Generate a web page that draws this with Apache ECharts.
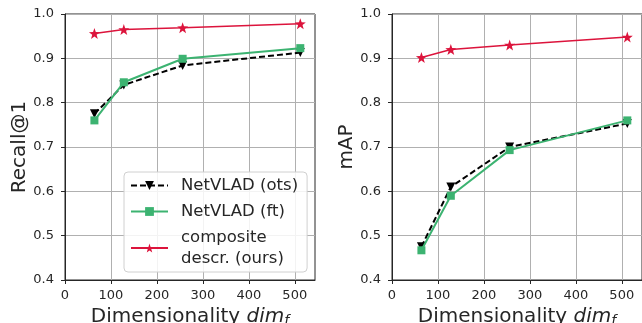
<!DOCTYPE html>
<html><head><meta charset="utf-8">
<script src="https://cdn.jsdelivr.net/npm/echarts@6/dist/echarts.min.js"></script>
<style>html,body{margin:0;padding:0;background:#fff}#c{width:642px;height:323px}</style>
</head><body><div id="c"></div>
<script>
const dims = [64, 128, 256, 512];
const recallOts = [0.775, 0.840, 0.884, 0.913];
const recallFt = [0.760, 0.846, 0.899, 0.923];
const recallOurs = [0.956, 0.965, 0.969, 0.978];
const mapOts = [0.475, 0.610, 0.700, 0.753];
const mapFt = [0.467, 0.590, 0.693, 0.760];
const mapOurs = [0.902, 0.920, 0.930, 0.948];
const xTicks = [0, 100, 200, 300, 400, 500];
const names = ['NetVLAD (ots)', 'NetVLAD (ft)', 'composite\ndescr. (ours)'];

const STAR = 'path://M0,-10 L2.35,-3.24 L9.51,-3.09 L3.8,1.24 L5.88,8.09 L0,4 L-5.88,8.09 L-3.8,1.24 L-9.51,-3.09 L-2.35,-3.24 Z';
const pair = (ys) => dims.map((d, i) => [d, ys[i]]);
const tc = '#262626';
const FONT = 'DejaVu Sans';

function xAx(gi) {
  return {
    type: 'value', gridIndex: gi, min: 0, max: 544,
    axisLine: {show: true, onZero: false, lineStyle: {color: '#262626', width: 1}},
    axisTick: {show: true, customValues: xTicks, length: 4, inside: false, lineStyle: {color: '#262626'}},
    axisLabel: {customValues: xTicks, color: tc, fontSize: 13, fontFamily: FONT, margin: 9},
    splitLine: {show: true, lineStyle: {color: '#b0b0b0', width: 1}},
    name: '{a|Dimensionality }{b|dim}{c|f}',
    nameLocation: 'middle', nameGap: 25,
    nameTextStyle: {rich: {
      a: {fontSize: 20, fontFamily: FONT, color: tc},
      b: {fontSize: 20, fontFamily: FONT, fontStyle: 'italic', color: tc},
      c: {fontSize: 14, fontFamily: FONT, fontStyle: 'italic', color: tc, padding: [8, 0, 0, 0]}
    }}
  };
}
function yAx(gi, name, gap) {
  return {
    type: 'value', gridIndex: gi, min: 0.4, max: 1.0, interval: 0.1,
    axisLine: {show: true, lineStyle: {color: '#262626', width: 1}},
    axisTick: {show: true, length: 4, lineStyle: {color: '#262626'}},
    axisLabel: {color: tc, fontSize: 13, fontFamily: FONT, margin: 11, formatter: v => v.toFixed(1)},
    splitLine: {show: true, lineStyle: {color: '#b0b0b0', width: 1}},
    name: name, nameLocation: 'middle', nameGap: gap, nameRotate: 90,
    nameTextStyle: {fontSize: 20, fontFamily: FONT, color: tc}
  };
}
function series(gi, ys, k) {
  const styles = [
    {color: '#000000', type: [6, 3], width: 2, symbol: 'triangle', rot: 180, size: 9},
    {color: '#3cb371', type: 'solid', width: 2, symbol: 'rect', rot: 0, size: 8},
    {color: '#dc143c', type: 'solid', width: 1.6, symbol: STAR, rot: 0, size: 11}
  ][k];
  return {
    type: 'line', name: names[k], xAxisIndex: gi, yAxisIndex: gi, data: pair(ys),
    symbol: styles.symbol, symbolRotate: styles.rot, symbolSize: styles.size,
    showSymbol: true, animation: false,
    lineStyle: {color: styles.color, width: styles.width, type: styles.type, dashOffset: 0},
    itemStyle: {color: styles.color, borderWidth: 0},
    z: 2 + k
  };
}

const chart = echarts.init(document.getElementById('c'), null, {renderer: 'canvas'});
chart.setOption({
  animation: false,
  backgroundColor: '#fff',
  grid: [
    {left: 65, top: 14, width: 250, height: 266, show: true, borderColor: '#262626', borderWidth: 1, containLabel: false, outerBoundsMode: 'none'},
    {left: 392, top: 14, width: 250, height: 266, show: true, borderColor: '#262626', borderWidth: 1, containLabel: false, outerBoundsMode: 'none'}
  ],
  xAxis: [xAx(0), xAx(1)],
  yAxis: [yAx(0, 'Recall@1', 34), yAx(1, 'mAP', 30)],
  legend: {
    show: true, orient: 'vertical', left: 124, top: 172,
    data: names,
    itemWidth: 37, itemHeight: 11, itemGap: 5,
    padding: [3, 9, 3, 6],
    backgroundColor: 'rgba(255,255,255,0.85)',
    borderColor: '#d0d0d0', borderWidth: 1, borderRadius: 4,
    textStyle: {fontSize: 16.5, fontFamily: FONT, color: tc, lineHeight: 21, padding: [0, 0, 0, 8]}
  },
  series: [
    series(0, recallOts, 0), series(0, recallFt, 1), series(0, recallOurs, 2),
    series(1, mapOts, 0), series(1, mapFt, 1), series(1, mapOurs, 2)
  ]
});
</script></body></html>
